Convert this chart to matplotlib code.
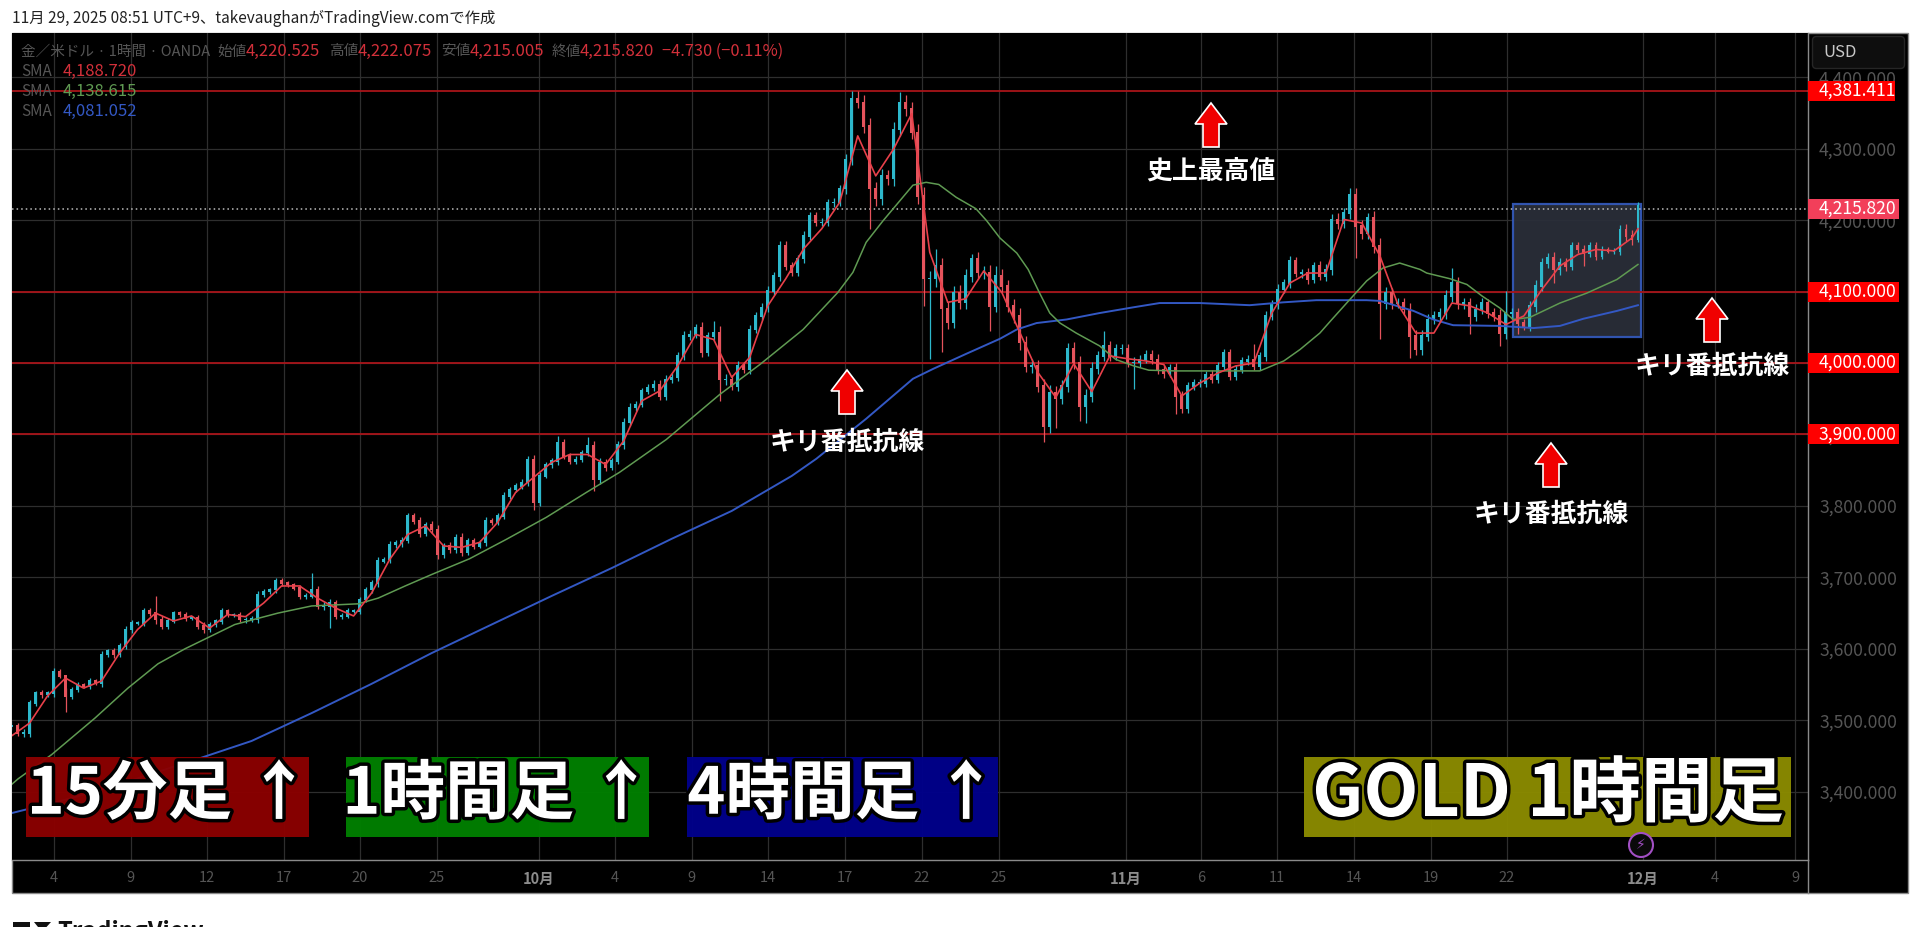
import matplotlib
matplotlib.use("Agg")
import matplotlib.pyplot as plt
import matplotlib.patheffects as pe
from matplotlib.patches import Rectangle, Polygon, Circle, FancyBboxPatch
from matplotlib.lines import Line2D
from matplotlib.transforms import Affine2D
import numpy as np

plt.rcParams['font.family'] = ['Noto Sans CJK JP', 'DejaVu Sans']

# ---------- data ----------
closes = [
 3492,3482,3482,3524,3538,3536,3538,3568,3562,3534,
 3543,3550,3548,3555,3552,3592,3597,3592,3604,3627,
 3636,3636,3653,3650,3641,3632,3639,3650,3648,3643,
 3643,3632,3627,3634,3639,3653,3648,3648,3641,3641,
 3642,3676,3680,3683,3695,3692,3690,3685,3674,3674,
 3683,3660,3660,3664,3646,3646,3653,3653,3669,3683,
 3692,3723,3725,3746,3748,3752,3786,3779,3762,3774,
 3767,3732,3744,3739,3756,3735,3751,3744,3749,3779,
 3777,3786,3814,3823,3828,3833,3865,3805,3842,3858,
 3863,3889,3870,3863,3865,3875,3884,3837,3861,3854,
 3863,3886,3917,3938,3942,3961,3966,3970,3954,3977,
 3980,4010,4038,4040,4050,4015,4038,4043,3977,3977,
 3968,3996,3991,4047,4066,4078,4101,4122,4164,4136,
 4127,4146,4178,4206,4197,4197,4225,4225,4244,4285,
 4370,4365,4332,4244,4230,4262,4258,4327,4365,4356,
 4323,4234,4118,4118,4136,4076,4057,4099,4085,4122,
 4146,4127,4127,4080,4122,4108,4080,4066,4029,3996,
 3996,3968,3912,3959,3950,3968,4020,4001,3940,3954,
 3992,4010,4024,4010,4020,4020,4001,4001,4005,4012,
 4005,3991,3986,3993,3954,3937,3968,3972,3972,3984,
 3977,3996,4014,3982,3991,4003,4005,3996,4010,4066,
 4082,4103,4112,4143,4126,4126,4117,4136,4122,4131,
 4201,4196,4210,4236,4192,4182,4203,4164,4084,4098,
 4084,4084,4075,4038,4019,4038,4061,4066,4070,4094,
 4112,4084,4084,4066,4075,4084,4070,4066,4042,4070,
 4070,4056,4052,4080,4108,4140,4147,4131,4140,4136,
 4164,4159,4154,4164,4150,4159,4157,4157,4187,4178,
 4173,4220]
wicks = [
 9,6,8,7,5,6,4,7,5,12,
 6,5,4,6,4,8,4,6,5,7,
 6,4,6,5,8,7,6,5,4,5,
 4,6,7,5,4,6,4,4,5,6,
 5,8,5,4,6,5,4,4,7,6,
 5,7,8,9,7,6,5,4,6,5,
 6,8,5,7,6,7,6,6,8,6,
 7,9,6,7,6,8,5,6,5,7,
 5,6,7,6,5,6,8,9,7,5,
 6,8,7,6,7,5,8,10,8,7,
 6,7,9,8,7,6,7,8,9,8,
 8,7,9,8,7,10,8,9,12,11,
 9,10,8,9,7,8,9,8,10,9,
 8,7,9,8,7,8,7,9,8,10,
 11,12,14,16,14,13,12,14,13,15,
 14,17,18,15,16,15,14,12,14,13,
 12,14,13,15,12,13,12,14,15,13,
 14,12,13,14,12,11,12,14,13,14,
 13,10,11,10,9,10,9,11,9,8,
 9,10,9,8,10,9,8,9,8,7,
 8,7,9,8,9,7,8,9,8,10,
 9,10,8,9,8,9,10,8,9,10,
 11,12,10,11,13,12,12,14,15,12,
 11,10,11,13,12,11,10,10,11,12,
 13,12,11,10,11,10,9,10,13,12,
 11,10,9,10,12,11,10,12,11,10,
 8,7,8,7,8,6,5,6,9,10,
 11,6]
spike_hi = {9:3545,24:3674,50:3706,91:3898,96:3896,117:4059,140:4381,141:4381,148:4379,
            154:4160,160:4153,164:4136,182:4045,207:4026,223:4245,226:4210,240:4133,
            249:4101,271:4226}
spike_lo = {9:3512,53:3629,87:3795,97:3821,118:3947,143:4188,152:4080,153:4006,155:4015,
            163:4045,172:3889,174:3909,178:3919,179:3916,187:3963,194:3929,196:3930,
            224:4147,228:4033,233:4007,243:4040,248:4024,251:4040,257:4112,262:4136}
sma_fast_idx = list(range(0, 271, 3)) + [271]
sma_fast = [
 3478,3496,3534,3559,3545,3555,3594,3627,3650,3639,3646,3629,3648,3645,3664,3688,
 3688,3671,3657,3646,3678,3725,3760,3772,3744,3742,3749,3777,3819,3840,3861,
 3872,3872,3858,3891,3947,3961,3996,4040,4033,3980,4008,4080,4118,4160,4188,4225,
 4318,4262,4300,4349,4155,4085,4090,4129,4099,4043,3987,3952,3999,3960,4010,4006,
 4003,3998,3954,3972,3986,3996,4000,4070,4112,4126,4126,4201,4196,4150,4082,4042,
 4042,4084,4080,4070,4054,4066,4103,4136,4152,4159,4157,4175,4188]
sma_mid_idx = [0,1.1,6.7,13.9,19.4,24.4,28.9,33.3,37.2,44.4,50,57.8,61.1,65.6,70,76.3,82.4,89.1,
               95.8,101.3,109.1,118,124.7,131.9,137.7,140.2,142.4,145.2,148,150.2,152.4,154.5,
               157.4,160.7,162.5,164.7,167.5,169.4,171.3,173,174.7,177.4,181.3,184,187,189.5,
               194,199,208,212,214.7,218,220,223,225.8,228.5,231.3,234.7,235.8,239.7,242.5,245,
               248,250.2,253,258,262.5,267.5,271]
sma_mid = [3410,3418,3452,3503,3545,3579,3600,3618,3634,3650,3660,3663,3671,3688,3704,3726,3753,3784,
           3819,3847,3893,3956,3998,4047,4099,4127,4169,4199,4227,4249,4253,4250,
           4232,4216,4199,4175,4154,4131,4098,4070,4056,4042,4024,4005,3996,3990,
           3989,3989,3989,4003,4019,4042,4061,4089,4115,4133,4140,4131,4126,4118,4110,4094,
           4077,4061,4064,4084,4098,4117,4138]
sma_slow_idx = [0,10,20,30,40,50,60,70,80,90,100,110,120,130,134.1,142.4,150.2,153.6,159.1,164.7,
                167.5,170.8,175.8,181.3,186.9,191.3,198,206.3,211.9,217.4,225.8,228,233.6,236.9,
                240.2,248,253.6,258,261.9,267.5,271]
sma_slow = [3370,3391,3416,3443,3471,3510,3551,3594,3634,3674,3713,3754,3793,3842,3866,3922,3978,3992,4013,4034,
            4047,4056,4061,4070,4078,4084,4084,4081,4085,4088,4088,4087,4073,4061,
            4053,4052,4049,4052,4062,4073,4081]
h_levels = [4381.411, 4100.0, 4000.0, 3900.0]
last_price = 4215.820
price_ticks = list(range(3400, 4500, 100))
time_tick_pos = [7,19.83,32.5,45.33,58,70.83,87.83,100.5,113.33,126,138.83,151.67,164.5,
                 185.67,198.17,210.83,223.67,236.5,249.17,271.83,283.83,297.17]
time_tick_lab = ['4','9','12','17','20','25','10月','4','9','14','17','22','25','11月',
                 '6','11','14','19','22','12月','4','9']
box_bars = (250.17, 271.45)
box_prices = (4037, 4223)

# ---------- figure ----------
W, H = 1920, 927
fig = plt.figure(figsize=(W/100, H/100), dpi=100, facecolor='white')
pix = Affine2D().scale(1/W, -1/H).translate(0, 1) + fig.transFigure
L, R, T, B = 12, 1808, 33, 860
fig.add_artist(Rectangle((L, T), 1908-L, 893-T, transform=pix, fc='black', ec='#8a8a8a', lw=1, zorder=-1))
ax = fig.add_axes([L/W, 1-B/H, (R-L)/W, (B-T)/H], facecolor='black')
ax.set_xlim((L+0.5-12)/6, (R-12)/6)
ax.set_ylim(3304.4, 4462)
for s in ['top', 'left']:
    ax.spines[s].set_visible(False)
for s in ['bottom', 'right']:
    ax.spines[s].set_color('#8a8a8a'); ax.spines[s].set_linewidth(1)
fig.add_artist(Line2D([R, R], [B, 893], transform=pix, color='#8a8a8a', lw=1, zorder=2))
ax.yaxis.tick_right()
ax.set_yticks(price_ticks)
ax.set_yticklabels([f'{p:,.3f}' for p in price_ticks], color='#555555', fontsize=12.6)
ax.set_xticks(time_tick_pos)
ax.set_xticklabels(time_tick_lab, fontsize=10.5)
for t_ in ax.get_xticklabels():
    m = '月' in t_.get_text()
    t_.set_color('#8c8c8c' if m else '#555555')
    if m: t_.set_fontweight('bold')
ax.tick_params(axis='both', length=0)
ax.tick_params(axis='y', pad=8)
ax.tick_params(axis='x', pad=8)
ax.grid(True, color='#2e2e2e', lw=0.9, zorder=0)
ax.set_axisbelow(True)

# box
ax.add_patch(Rectangle((box_bars[0], box_prices[0]), box_bars[1]-box_bars[0], box_prices[1]-box_prices[0],
                       fc='#2a2e39', ec='#3358b8', lw=1.6, alpha=0.95, zorder=1.5))

# horizontal levels
for lv in h_levels:
    ax.axhline(lv, color='#a81419', lw=1.3, zorder=2)
ax.axhline(last_price, color='#bdbdbd', lw=1.1, ls=(0, (1, 2)), zorder=2)

# candles
x = np.arange(len(closes))
c = np.array(closes, float)
o = np.r_[c[0], c[:-1]]
w = np.array(wicks, float)
hi = np.maximum(o, c) + w*0.7
lo = np.minimum(o, c) - w*0.7
for k, v in spike_hi.items(): hi[k] = v
for k, v in spike_lo.items(): lo[k] = v
up = c >= o
colors = np.where(up, '#2db8cc', '#e5535c')
ax.vlines(x, lo, hi, colors=colors, lw=0.9, zorder=3)
ax.bar(x, np.abs(c-o)+2, bottom=np.minimum(o, c)-1, width=0.48, color=colors, zorder=3)

# moving averages
ax.plot(sma_slow_idx, sma_slow, color='#3358c4', lw=1.4, zorder=4)
ax.plot(sma_mid_idx, sma_mid, color='#5f9a52', lw=1.1, zorder=4)
ax.plot(sma_fast_idx, sma_fast, color='#e8404a', lw=1.2, zorder=4)

# price tags
tr = ax.get_yaxis_transform()
tags = [(4381.411, '4,381.411', '#ff0000', 87), (last_price, '4,215.820', '#f23f5a', 91),
        (4100.0, '4,100.000', '#ff0000', 91), (4000.0, '4,000.000', '#ff0000', 91),
        (3900.0, '3,900.000', '#ff0000', 91)]
for p, s, col, wd in tags:
    ax.add_patch(Rectangle((1, p-14), wd/(R-L), 28, transform=tr, fc=col, ec='none', clip_on=False, zorder=6))
    ax.text(1+11/(R-L), p, s, transform=tr, color='white', fontsize=12.6, va='center', ha='left',
            clip_on=False, zorder=7)

# USD button
fig.add_artist(FancyBboxPatch((1815, 39), 87, 27, boxstyle='round,pad=2.5,rounding_size=4', transform=pix,
                              fc='#0e0e0e', ec='#262626', lw=1, zorder=3))

def t(px, py, s, **kw):
    kw.setdefault('va', 'center'); kw.setdefault('ha', 'left')
    return fig.text(px/W, 1-py/H, s, **kw)

t(1823, 52.5, 'USD', color='#c8c8c8', fontsize=12, zorder=4)

# header
t(12, 18, '11月 29, 2025 08:51 UTC+9、takevaughanがTradingView.comで作成', fontsize=11.1, color='#222222')

# legend
DIM = '#565656'; RED = '#d2303a'
t(21, 51.5, '金／米ドル · 1時間 · OANDA', fontsize=10.5, color=DIM)
for xa, la, xb, va in [(217, '始値', 246, '4,220.525'), (329, '高値', 358, '4,222.075'),
                       (441, '安値', 470, '4,215.005'), (552, '終値', 580, '4,215.820')]:
    t(xa, 51.5, la, fontsize=10.5, color=DIM)
    t(xb, 51.5, va, fontsize=12, color=RED)
t(662, 51.5, '−4.730 (−0.11%)', fontsize=11.8, color=RED)
for yy, val, col in [(71, '4,188.720', '#d2303a'), (91, '4,138.615', '#5f9a52'), (111, '4,081.052', '#3358c4')]:
    t(21, yy, 'SMA', fontsize=11, color=DIM)
    t(63, yy, val, fontsize=12, color=col)

# arrows
def arrow(cx, cy):
    hw, sw, hh = 16, 8, 22
    pts = [(cx, cy-hh), (cx+hw, cy-hh+21), (cx+sw, cy-hh+21), (cx+sw, cy+hh), (cx-sw, cy+hh),
           (cx-sw, cy-hh+21), (cx-hw, cy-hh+21)]
    fig.add_artist(Polygon(pts, closed=True, transform=pix, fc='#f00000', ec='white', lw=1.2, zorder=5))
for cx, cy in [(1211, 125), (847, 392), (1551, 465), (1712, 320)]:
    arrow(cx, cy)
for cx, cy, s in [(1211, 171, '史上最高値'), (847, 442, 'キリ番抵抗線'), (1551, 514, 'キリ番抵抗線'), (1712, 366, 'キリ番抵抗線')]:
    t(cx, cy, s, fontsize=18.6, color='white', ha='center', fontweight='bold', zorder=5)

# banners
for x0, x1, col in [(25.5, 309, '#8b0000'), (346, 648.6, '#008000'), (687, 998, '#00008b'), (1304, 1791, '#8b8b00')]:
    fig.add_artist(Rectangle((x0, 757), x1-x0, 79.7, transform=pix, fc=col, ec='none', alpha=0.96, zorder=5))
stroke = [pe.withStroke(linewidth=5, foreground='black')]
for xc, s, fs in [(169, '15分足 ↑', 46.5), (498, '1時間足 ↑', 46.5), (843, '4時間足 ↑', 46.5), (1548, 'GOLD 1時間足', 51.5)]:
    t(xc, 795, s, fontsize=fs, color='white', ha='center', fontweight='bold', zorder=6, path_effects=stroke)

# event icon
fig.add_artist(Circle((1641, 845), 12, transform=pix, fc='#0a0a0a', ec='#a24fc4', lw=1.5, zorder=7))
t(1641, 845, '⚡', fontsize=10, color='#a24fc4', ha='center', family='DejaVu Sans', zorder=8)

# brand
fig.add_artist(Rectangle((13, 922), 17, 8, transform=pix, fc='#111111', ec='none', zorder=5))
fig.add_artist(Polygon([(34, 922), (51, 922), (42, 932)], transform=pix, fc='#111111', ec='none', zorder=5))
t(57, 919.5, 'TradingView', fontsize=17, color='#111111', va='top', fontweight='bold', zorder=5)

fig.savefig('out.png', dpi=100, facecolor='white')
